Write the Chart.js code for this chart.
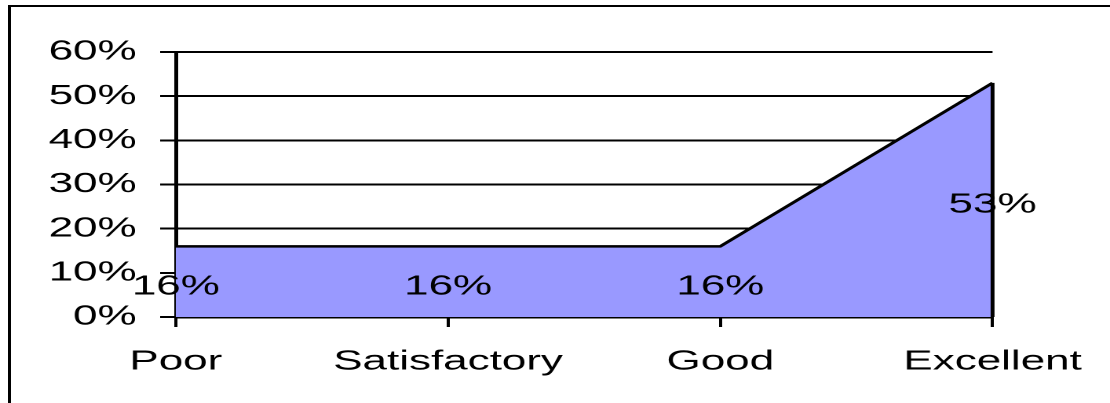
<!DOCTYPE html>
<html>
<head>
<meta charset="utf-8">
<script src="https://cdn.jsdelivr.net/npm/chart.js@4/dist/chart.umd.min.js"></script>
<style>
  html, body { margin: 0; padding: 0; background: #fff; overflow: hidden; }
  #wrap {
    width: 707px; height: 403px;
    transform: scaleX(1.57); transform-origin: 0 0;
  }
</style>
</head>
<body>
<div id="wrap"><canvas id="c" width="707" height="403"></canvas></div>
<script>
// Rating distribution
const categories = ['Poor', 'Satisfactory', 'Good', 'Excellent'];
const shares = [16, 16, 16, 53];
const yTicks = [0, 10, 20, 30, 40, 50, 60];

const FONT = { family: '"Liberation Sans", Arial, sans-serif', size: 28 };

// Outer frame along the top and left of the figure
const framePlugin = {
  id: 'frame',
  beforeDraw(chart) {
    const ctx = chart.ctx;
    ctx.save();
    ctx.fillStyle = '#fff';
    ctx.fillRect(0, 0, chart.width, chart.height);
    ctx.fillStyle = '#000';
    ctx.fillRect(5, 5, chart.width, 2);
    ctx.fillRect(5, 5, 2, chart.height);
    ctx.restore();
  }
};

// Closing edge of the area at the last category, and the value labels
const areaExtras = {
  id: 'areaExtras',
  afterDatasetsDraw(chart) {
    const ctx = chart.ctx;
    const xs = chart.scales.x, ys = chart.scales.y;
    const last = shares.length - 1;
    const lx = xs.getPixelForValue(last);
    ctx.save();
    ctx.strokeStyle = '#000';
    ctx.lineWidth = 2.5;
    ctx.beginPath();
    ctx.moveTo(lx, ys.getPixelForValue(shares[last]));
    ctx.lineTo(lx, ys.getPixelForValue(0));
    ctx.stroke();

    ctx.fillStyle = '#000';
    ctx.font = FONT.size + 'px ' + FONT.family;
    ctx.textAlign = 'center';
    ctx.textBaseline = 'middle';
    shares.forEach((v, i) => {
      const x = xs.getPixelForValue(i);
      const y = (ys.getPixelForValue(v) + ys.getPixelForValue(0)) / 2 + 5;
      ctx.fillText(v + '%', x, y);
    });
    ctx.restore();
  }
};

new Chart(document.getElementById('c'), {
  type: 'line',
  data: {
    labels: categories,
    datasets: [{
      data: shares,
      fill: 'origin',
      backgroundColor: '#9999ff',
      borderColor: '#000',
      borderWidth: 2.5,
      tension: 0,
      pointRadius: 0
    }]
  },
  options: {
    responsive: false,
    animation: false,
    devicePixelRatio: 2,
    layout: { padding: { top: 52, right: 71, left: 0, bottom: 0 } },
    plugins: { legend: { display: false }, tooltip: { enabled: false } },
    scales: {
      x: {
        offset: false,
        afterFit(s) { s.height = 86; },
        grid: { display: true, drawOnChartArea: false, color: '#000', lineWidth: 2, tickLength: 10 },
        border: { display: true, color: '#000', width: 2.5 },
        ticks: { color: '#000', font: FONT, padding: 18, maxRotation: 0, autoSkip: false }
      },
      y: {
        min: 0, max: 60,
        afterFit(s) { s.width = 112; },
        afterBuildTicks(s) { s.ticks = yTicks.map(v => ({ value: v })); },
        grid: { color: '#000', lineWidth: 2, tickLength: 10 },
        border: { display: true, color: '#000', width: 2.5 },
        ticks: { color: '#000', font: FONT, padding: 15, callback: v => v + '%' }
      }
    }
  },
  plugins: [framePlugin, areaExtras]
});
</script>
</body>
</html>
